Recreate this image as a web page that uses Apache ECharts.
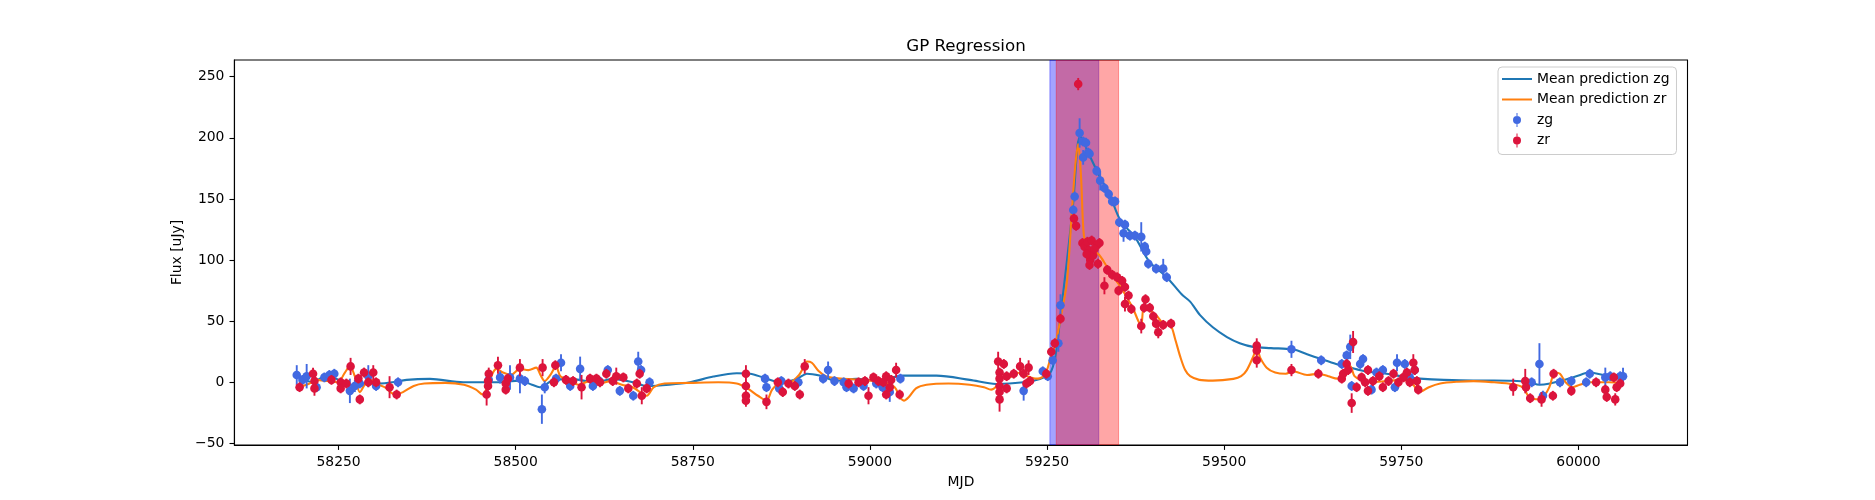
<!DOCTYPE html>
<html>
<head>
<meta charset="utf-8">
<script src="https://cdn.jsdelivr.net/npm/echarts@6/dist/echarts.min.js"></script>
<style>
  html, body { margin: 0; padding: 0; background: #fff; }
  #chart { width: 1875px; height: 500px; }
</style>
</head>
<body>
<div id="chart"></div>
<script>
// tick labels
var xTicks = [58250, 58500, 58750, 59000, 59250, 59500, 59750, 60000];
var yTicks = [-50, 0, 50, 100, 150, 200, 250];

// shaded intervals [start, end]
var spanZg = [59254, 59323];
var spanZr = [59263, 59351];

// observations: [mjd, flux, error]
var zgPoints = [
  [58191, 6, 8], [58199, 2, 4], [58205, 5, 10], [58219, -4, 4], [58230, 4, 4], [58237, 6, 4],
  [58244, 7, 4], [58266, -7, 10], [58273, -3, 5], [58280, -1, 4], [58292, 5, 9], [58303, -3, 4],
  [58334, 0, 4],
  [58462, 2, 4], [58478, 4, 5], [58492, 4, 10], [58506, 3, 12], [58513, 1, 4], [58537, -22, 12],
  [58541, -4, 5], [58557, 3, 4], [58564, 16, 7], [58577, -3, 4], [58591, 11, 10], [58609, -3, 4],
  [58618, 1, 4], [58630, 10, 4], [58647, -7, 4], [58666, -11, 4], [58673, 17, 8], [58677, 10, 4],
  [58689, 0, 4],
  [58852, 3, 4], [58854, -4, 4], [58872, -5, 4], [58875, 1, 4], [58899, 0, 4], [58934, 3, 4],
  [58941, 10, 7], [58950, 1, 4], [58963, 0, 4], [58967, -4, 4], [58977, -5, 4], [58991, -3, 4],
  [59009, -1, 4], [59018, -4, 4], [59028, -8, 8], [59043, 3, 4],
  [59217, -7, 8], [59244, 9, 4], [59251, 5, 4], [59258, 18, 4], [59266, 32, 7], [59269, 63, 9],
  [59287, 141, 4], [59289, 152, 4], [59296, 204, 12], [59301, 197, 4], [59305, 196, 4], [59301, 184, 6],
  [59308, 188, 4], [59310, 187, 4], [59320, 173, 4], [59325, 165, 8], [59331, 159, 4], [59337, 154, 4],
  [59342, 148, 4], [59346, 148, 4], [59352, 131, 4], [59358, 122, 7], [59360, 129, 4], [59367, 120, 4],
  [59374, 120, 4], [59383, 119, 12], [59388, 111, 4], [59390, 107, 4], [59393, 97, 4], [59404, 93, 4],
  [59414, 93, 8], [59419, 86, 4],
  [59595, 27, 7], [59637, 18, 4], [59666, 15, 4], [59673, 22, 4], [59678, 29, 10], [59680, -3, 4],
  [59692, 15, 4], [59696, 19, 4], [59708, -6, 4], [59715, 8, 4], [59724, 10, 4], [59741, -4, 4],
  [59744, 16, 7], [59755, 15, 4], [59762, 4, 4], [59769, 10, 4],
  [59934, 0, 4], [59945, 15, 17], [59950, -11, 4], [59974, 0, 4], [59990, 1, 4], [60011, 0, 4],
  [60016, 7, 4], [60038, 4, 8], [60045, 5, 4], [60059, 5, 4], [60063, 5, 7]
];

var zrPoints = [
  [58195, -4, 4], [58214, 7, 5], [58216, 1, 4], [58216, -5, 6], [58240, 2, 4], [58253, 0, 4],
  [58253, -5, 4], [58261, -1, 4], [58267, 13, 7], [58278, 3, 4], [58280, -14, 4], [58286, 8, 4],
  [58292, 0, 4], [58299, 8, 6], [58303, 0, 4], [58322, -4, 9], [58332, -10, 4],
  [58459, -10, 9], [58461, -3, 4], [58461, 1, 4], [58462, 7, 5], [58475, 14, 7], [58486, -6, 4],
  [58486, -1, 4], [58489, 3, 4], [58506, 12, 7], [58538, 12, 7], [58554, 0, 4], [58556, 14, 4],
  [58571, 2, 4], [58581, 1, 4], [58593, -4, 10], [58605, 3, 4], [58614, 3, 4], [58619, 0, 4],
  [58628, 7, 4], [58637, 1, 4], [58642, 5, 7], [58652, 4, 4], [58659, -5, 4], [58671, -1, 4],
  [58675, 7, 4], [58678, -11, 7], [58685, -5, 4],
  [58825, 7, 7], [58825, -3, 4], [58825, -11, 4], [58825, -15, 5], [58854, -16, 6], [58870, 0, 4],
  [58877, -8, 4], [58885, -1, 4], [58894, -3, 4], [58901, -10, 4], [58908, 13, 6], [58970, -1, 4],
  [58984, 0, 4], [58993, 1, 4], [58998, -11, 7], [59005, 4, 4], [59012, 1, 4], [59019, 0, 4],
  [59023, 5, 4], [59023, -10, 4], [59028, -4, 4], [59030, 2, 4], [59037, 10, 6], [59042, -10, 4],
  [59181, 17, 8], [59189, 15, 4], [59183, 8, 4], [59183, 3, 4], [59183, -3, 4], [59183, -8, 4],
  [59183, -14, 10], [59193, 5, 4], [59193, -5, 4], [59203, 7, 4], [59212, 13, 7], [59217, 7, 4],
  [59221, -1, 4], [59224, 12, 6], [59226, 1, 4], [59249, 7, 4], [59256, 25, 4], [59261, 32, 4],
  [59269, 52, 4],
  [59288, 134, 4], [59291, 128, 4], [59294, 244, 5],
  [59300, 114, 4], [59303, 111, 4], [59307, 115, 4], [59309, 108, 4], [59313, 116, 4], [59311, 100, 4],
  [59315, 104, 4], [59320, 112, 4], [59324, 114, 4], [59322, 97, 4], [59317, 109, 4], [59310, 96, 4],
  [59306, 105, 4],
  [59331, 79, 7], [59335, 92, 4], [59342, 88, 4], [59349, 86, 4], [59351, 75, 4], [59356, 83, 4],
  [59360, 78, 4], [59365, 71, 4], [59360, 64, 6], [59369, 60, 4], [59383, 46, 6], [59389, 68, 4],
  [59387, 61, 4], [59395, 61, 4], [59400, 54, 4], [59404, 48, 4], [59407, 41, 5], [59414, 47, 4],
  [59425, 48, 4],
  [59546, 30, 6], [59546, 26, 4], [59546, 18, 6], [59595, 10, 5], [59633, 7, 4], [59666, 3, 4],
  [59668, 7, 4], [59673, 15, 4], [59675, 10, 4], [59680, -17, 8], [59682, 33, 9], [59687, -4, 4],
  [59694, 4, 4], [59699, 0, 4], [59703, 10, 4], [59703, -7, 4], [59710, 1, 4], [59719, 5, 4],
  [59724, -4, 4], [59732, 1, 4], [59739, 7, 4], [59746, 0, 4], [59753, 4, 4], [59758, 8, 4],
  [59762, 0, 4], [59767, 16, 7], [59769, 10, 4], [59772, 1, 4], [59774, -6, 4],
  [59908, -4, 7], [59925, 1, 10], [59926, -4, 4], [59932, -13, 4], [59948, -14, 6], [59964, -11, 4],
  [59965, 7, 4], [59990, -7, 4], [60025, 0, 4], [60038, -6, 4], [60040, -12, 4], [60050, 4, 4],
  [60052, -14, 5], [60054, -4, 4], [60059, -1, 4]
];

// GP mean predictions: [mjd, flux]
var zgMean = [
  [58195, 4], [58214, 0], [58228, 4], [58247, 3], [58261, -3], [58280, -1], [58308, -1], [58326, 0],
  [58346, 2], [58379, 2.8], [58426, 0], [58472, 0], [58506, 1.4], [58523, -2], [58534, -4], [58552, 1.4],
  [58577, 2.8], [58614, 0], [58637, 2.8], [58666, 0], [58685, -3], [58717, -2], [58746, 0],
  [58779, 4.7], [58812, 7.4], [58831, 7], [58849, 4], [58873, 0], [58897, 2.8], [58911, 7],
  [58929, 5.5], [58952, 1.4], [58981, 2.8], [59009, 1.4], [59047, 5.5], [59094, 5.5], [59141, 2],
  [59178, -1.4], [59217, 0], [59240, 2.8], [59254, 7], [59262, 22], [59269, 55], [59278, 99],
  [59287, 147], [59293, 193], [59297, 201], [59308, 188], [59323, 170], [59338, 154], [59354, 132],
  [59374, 119], [59394, 99], [59419, 86], [59440, 72], [59452, 66], [59466, 55], [59484, 45],
  [59504, 37], [59522, 32], [59541, 29], [59566, 28], [59597, 27], [59617, 23], [59637, 19],
  [59658, 15], [59678, 12], [59698, 9], [59729, 7], [59759, 4], [59776, 3], [59810, 2], [59852, 1.5],
  [59881, 1.5], [59907, 1.3], [59931, 0], [59945, -2], [59960, -1], [59974, 1], [59997, 5],
  [60016, 8], [60038, 6], [60064, 6]
];

var zrMean = [
  [58195, -4], [58209, -1], [58219, 2], [58234, 1], [58249, 0], [58259, 8], [58266, 13], [58273, 5],
  [58280, -8], [58288, -1], [58295, 2], [58303, -1], [58315, -4], [58330, -10], [58341, -8],
  [58356, -3], [58371, -1], [58401, -0.5], [58427, -2], [58444, -6], [58453, -10], [58460, -4],
  [58468, 8], [58473, 11], [58482, 8], [58493, 6], [58506, 11], [58518, 10], [58529, 12], [58535, 6],
  [58541, 1], [58549, 6], [58557, 13], [58563, 5], [58574, 2], [58589, -2], [58604, 1], [58619, -1],
  [58634, 1], [58650, -2], [58665, -4], [58678, -9], [58685, -11], [58695, -4], [58710, -1],
  [58746, -0.5], [58786, 0], [58812, -1], [58827, -5], [58842, -11], [58854, -15], [58862, -6],
  [58872, -1], [58888, 0], [58900, 6], [58906, 12], [58911, 17], [58918, 16], [58928, 9], [58938, 5],
  [58959, 3], [58989, 2], [59019, 0], [59035, -4], [59042, -12], [59048, -15], [59055, -12],
  [59065, -5], [59080, -2], [59111, -1], [59141, -2], [59161, -4], [59171, -6], [59179, -3],
  [59187, 4], [59197, 4], [59207, 8], [59217, 6], [59227, 4], [59237, 3], [59247, 6], [59255, 20],
  [59262, 32], [59270, 55], [59278, 82], [59285, 139], [59290, 178], [59294, 195], [59298, 168],
  [59302, 120], [59308, 110], [59315, 108], [59324, 104], [59333, 96], [59344, 86], [59354, 78],
  [59364, 68], [59371, 61], [59379, 50], [59383, 47], [59387, 62], [59397, 58], [59404, 55],
  [59414, 48], [59424, 47], [59431, 35], [59438, 21], [59445, 10], [59452, 5], [59465, 2],
  [59484, 1.4], [59513, 2.8], [59524, 5], [59532, 10], [59541, 21], [59546, 28], [59551, 20],
  [59560, 12], [59572, 8], [59587, 7], [59597, 9], [59617, 6], [59633, 7], [59647, 5], [59660, 3],
  [59668, 6], [59678, 13], [59684, 5], [59693, 2], [59708, 0], [59729, 1], [59749, 2], [59764, 0],
  [59776, -8], [59789, -4], [59805, -1], [59830, 0.5], [59852, 1], [59881, 0], [59907, -1.5],
  [59921, -4], [59932, -13], [59945, -14], [59953, -10], [59959, -4], [59967, 8], [59974, 7],
  [59982, 0], [59992, -4], [60002, -2], [60016, 0], [60043, 0], [60064, -1]
];

var font = 'DejaVu Sans';
var errIcon = 'path://M4.5,0 H5.5 V14 H4.5 Z M1,7 A4,4 0 0 1 9,7 A4,4 0 0 1 1,7 Z';
var lineIcon = 'path://M0,0 H30 V2 H0 Z';

function errorBars(color) {
  return function (params, api) {
    var x = api.value(0), y = api.value(1), e = api.value(2);
    var p = api.coord([x, y]);
    var lo = api.coord([x, y - e]);
    var hi = api.coord([x, y + e]);
    return {
      type: 'group',
      children: [
        { type: 'line', shape: { x1: p[0], y1: lo[1], x2: p[0], y2: hi[1] },
          style: { stroke: color, lineWidth: 1.9 } },
        { type: 'circle', shape: { cx: p[0], cy: p[1], r: 4.3 }, style: { fill: color } }
      ]
    };
  };
}

function spanItem(color) {
  return function (params, api) {
    var cs = params.coordSys;
    var x1 = api.coord([api.value(0), 0])[0];
    var x2 = api.coord([api.value(1), 0])[0];
    return {
      type: 'rect',
      shape: { x: x1, y: cs.y, width: x2 - x1, height: cs.height },
      style: { fill: color, stroke: color, lineWidth: 1 }
    };
  };
}

var myChart = echarts.init(document.getElementById('chart'));

var option = {
  backgroundColor: '#fff',
  animation: false,
  textStyle: { fontFamily: font, color: '#000' },
  title: {
    text: 'GP Regression',
    left: 961, top: 33, textAlign: 'center',
    textStyle: { fontFamily: font, fontSize: 16.7, fontWeight: 'normal', color: '#000' }
  },
  legend: {
    orient: 'vertical',
    left: 1498, top: 67,
    padding: [5, 7, 7, 4],
    itemWidth: 30, itemHeight: 14, itemGap: 6.5,
    backgroundColor: 'rgba(255,255,255,0.8)',
    borderColor: '#ccc', borderWidth: 1, borderRadius: 4,
    textStyle: { fontFamily: font, fontSize: 13.9, color: '#000' },
    selectedMode: false,
    data: [
      { name: 'Mean prediction zg', icon: lineIcon },
      { name: 'Mean prediction zr', icon: lineIcon },
      { name: 'zg', icon: errIcon },
      { name: 'zr', icon: errIcon }
    ]
  },
  grid: {
    left: 234.4, right: 187.5, top: 60, bottom: 55,
    show: true, borderColor: '#000', borderWidth: 1.1, backgroundColor: 'transparent'
  },
  xAxis: {
    type: 'value', min: 58103, max: 60154,
    name: 'MJD', nameLocation: 'middle', nameGap: 30,
    nameTextStyle: { fontFamily: font, fontSize: 13.9, color: '#000' },
    axisLine: { show: true, onZero: false, lineStyle: { color: '#000', width: 1.1 } },
    axisTick: { show: true, inside: false, length: 4.9, customValues: xTicks, lineStyle: { color: '#000', width: 1.1 } },
    axisLabel: {
      customValues: xTicks, margin: 10, fontFamily: font, fontSize: 13.9, color: '#000',
      formatter: function (v) { return String(v); }
    },
    splitLine: { show: false }
  },
  yAxis: {
    type: 'value', min: -51.3, max: 263.7,
    name: 'Flux [uJy]', nameLocation: 'middle', nameGap: 39,
    nameTextStyle: { fontFamily: font, fontSize: 13.9, color: '#000' },
    axisLine: { show: true, onZero: false, lineStyle: { color: '#000', width: 1.1 } },
    axisTick: { show: true, inside: false, length: 4.9, customValues: yTicks, lineStyle: { color: '#000', width: 1.1 } },
    axisLabel: {
      customValues: yTicks, margin: 10, fontFamily: font, fontSize: 13.9, color: '#000',
      formatter: function (v) { return String(v).replace('-', '\u2212'); }
    },
    splitLine: { show: false }
  },
  series: [
    {
      name: 'spanZg', type: 'custom', z: 1, silent: true, clip: true,
      renderItem: spanItem('rgba(0,0,255,0.36)'),
      data: [spanZg]
    },
    {
      name: 'spanZr', type: 'custom', z: 1, silent: true, clip: true,
      renderItem: spanItem('rgba(255,0,0,0.35)'),
      data: [spanZr]
    },
    {
      name: 'Mean prediction zg', type: 'line', z: 2, symbol: 'none', smooth: 0.3,
      lineStyle: { color: '#1f77b4', width: 2.1 }, itemStyle: { color: '#1f77b4' },
      data: zgMean
    },
    {
      name: 'Mean prediction zr', type: 'line', z: 2, symbol: 'none', smooth: 0.3,
      lineStyle: { color: '#ff7f0e', width: 2.1 }, itemStyle: { color: '#ff7f0e' },
      data: zrMean
    },
    {
      name: 'zg', type: 'custom', z: 3, clip: true,
      itemStyle: { color: 'royalblue' },
      renderItem: errorBars('royalblue'),
      data: zgPoints
    },
    {
      name: 'zr', type: 'custom', z: 4, clip: true,
      itemStyle: { color: 'crimson' },
      renderItem: errorBars('crimson'),
      data: zrPoints
    }
  ]
};

myChart.setOption(option);
</script>
</body>
</html>
